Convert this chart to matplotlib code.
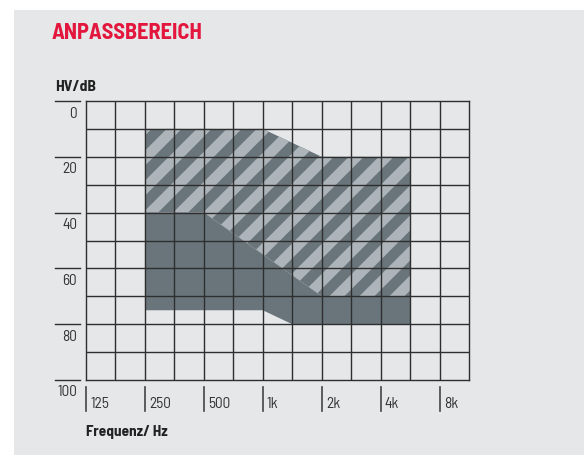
import matplotlib
matplotlib.use("Agg")
import matplotlib.pyplot as plt
import matplotlib.patches as patches
from matplotlib import font_manager as fm
import numpy as np

# octave steps above 125 Hz (grid every half octave), hearing loss in dB
freq_labels = ['125', '250', '500', '1k', '2k', '4k', '8k']
freq_pos = [0, 1, 2, 3, 4, 5, 6]
db_ticks = [0, 20, 40, 60, 80, 100]

# hatched part of the fitting range
hatch_oct = [1, 3, 4, 5.5, 5.5, 4, 2, 1]
hatch_db = [10, 10, 20, 20, 70, 70, 40, 40]
# solid part of the fitting range
solid_oct = [1, 2, 4, 5.5, 5.5, 3.5, 3, 1]
solid_db = [40, 40, 70, 70, 80, 80, 75, 75]

BG = '#e6e7e9'
DARK = '#6a757b'
LIGHT = '#adb5ba'
GRID = '#2e2e2e'
RED = '#e3173e'


def narrow_font(bold):
    # look for an installed semi-condensed / narrow face, fall back to DejaVu Sans
    want = 700 if bold else 400
    best = None
    for f in fm.fontManager.ttflist:
        tag = (f.name + ' ' + f.fname).lower()
        cond = 'narrow' in tag or 'condensed' in tag or f.stretch in ('condensed', 'semi-condensed')
        if not cond or 'extracondensed' in tag or 'extra-condensed' in str(f.stretch):
            continue
        w = f.weight if isinstance(f.weight, int) else fm.weight_dict.get(f.weight, 400)
        if w != want or f.style != 'normal':
            continue
        if 'semicondensed' in tag or f.stretch == 'semi-condensed':
            rank = 0
        elif 'narrow' in tag:
            rank = 1
        else:
            rank = 2
        if best is None or rank < best[0]:
            best = (rank, f.fname)
    if best:
        return best[1]
    return None


BOLD_F = narrow_font(True)
REG_F = narrow_font(False)


def fp(bold, size):
    path = BOLD_F if bold else REG_F
    if path:
        return fm.FontProperties(fname=path, size=size)
    return fm.FontProperties(family='DejaVu Sans', weight='bold' if bold else 'normal',
                             stretch='condensed', size=size)


W, H = 584, 455
fig = plt.figure(figsize=(W / 100, H / 100), dpi=100, facecolor='white')
fig.patches.append(patches.Rectangle((14 / W, 0), 1, 1 - 10 / H, transform=fig.transFigure,
                                     facecolor=BG, edgecolor='none', zorder=-10))

left, right, top, bottom = 86, 469, 101, 380
ax = fig.add_axes([left / W, 1 - bottom / H, (right - left) / W, (bottom - top) / H])
ax.set_facecolor(BG)
ax.set_xlim(0, 6.5)
ax.set_ylim(100, 0)
ax.set_xticks([])
ax.set_yticks([])
for s in ax.spines.values():
    s.set_color(GRID)
    s.set_linewidth(1)

# hatched area: dark base with light diagonal stripes clipped to it
hatch_poly = patches.Polygon(np.column_stack([hatch_oct, hatch_db]), closed=True,
                             facecolor=DARK, edgecolor='none', zorder=1)
ax.add_patch(hatch_poly)

ax_w = (right - left)
ax_h = (bottom - top)
sx = ax_w / 6.5      # px per octave
sy = ax_h / 100.0    # px per dB
period, width, phase = 30.0, 15.0, 108.6
for k in range(-5, 40):
    c0 = phase + period * k
    c1 = c0 + width
    d0, d1 = -20, 120
    pts = [((c0 - d0 * sy) / sx, d0), ((c1 - d0 * sy) / sx, d0),
           ((c1 - d1 * sy) / sx, d1), ((c0 - d1 * sy) / sx, d1)]
    stripe = patches.Polygon(pts, closed=True, facecolor=LIGHT, edgecolor='none', zorder=2)
    ax.add_patch(stripe)
    stripe.set_clip_path(hatch_poly)

ax.fill(solid_oct, solid_db, color=DARK, lw=0, zorder=3)

# grid
for xv in np.arange(0.5, 6.5, 0.5):
    ax.axvline(xv, color=GRID, lw=1, zorder=5)
for yv in range(10, 100, 10):
    ax.axhline(yv, color=GRID, lw=1, zorder=5)

# y labels with short rules above them
ytr = ax.get_yaxis_transform()
for d in db_ticks:
    ax.plot([-31 / ax_w, -6 / ax_w], [d, d], transform=ytr, color=GRID, lw=1, clip_on=False)
    ax.annotate(str(d), xy=(-9 / ax_w, d), xycoords=ytr, xytext=(0, -9), textcoords='offset points',
                ha='right', va='center', color='#333333', fontproperties=fp(False, 11))

# x labels with vertical marks
xtr = ax.get_xaxis_transform()
for p, lab in zip(freq_pos, freq_labels):
    ax.plot([p, p], [-7 / ax_h, -31 / ax_h], transform=xtr, color='#444444', lw=1.2, clip_on=False)
    ax.annotate(lab, xy=(p, -31 / ax_h), xycoords=xtr, xytext=(3, 0), textcoords='offset points',
                ha='left', va='bottom', color='#333333', fontproperties=fp(False, 11))

fig.text(52 / W, 1 - 33 / H, 'ANPASSBEREICH', color=RED, va='center', ha='left',
         fontproperties=fp(True, 16.1))
fig.text(55 / W, 1 - 87 / H, 'HV/dB', color='#222222', va='center', ha='left',
         fontproperties=fp(True, 11.3))
fig.text(86 / W, 1 - 432 / H, 'Frequenz/ Hz', color='#222222', va='center', ha='left',
         fontproperties=fp(True, 11))

fig.savefig('out.png', dpi=100, facecolor='white')
